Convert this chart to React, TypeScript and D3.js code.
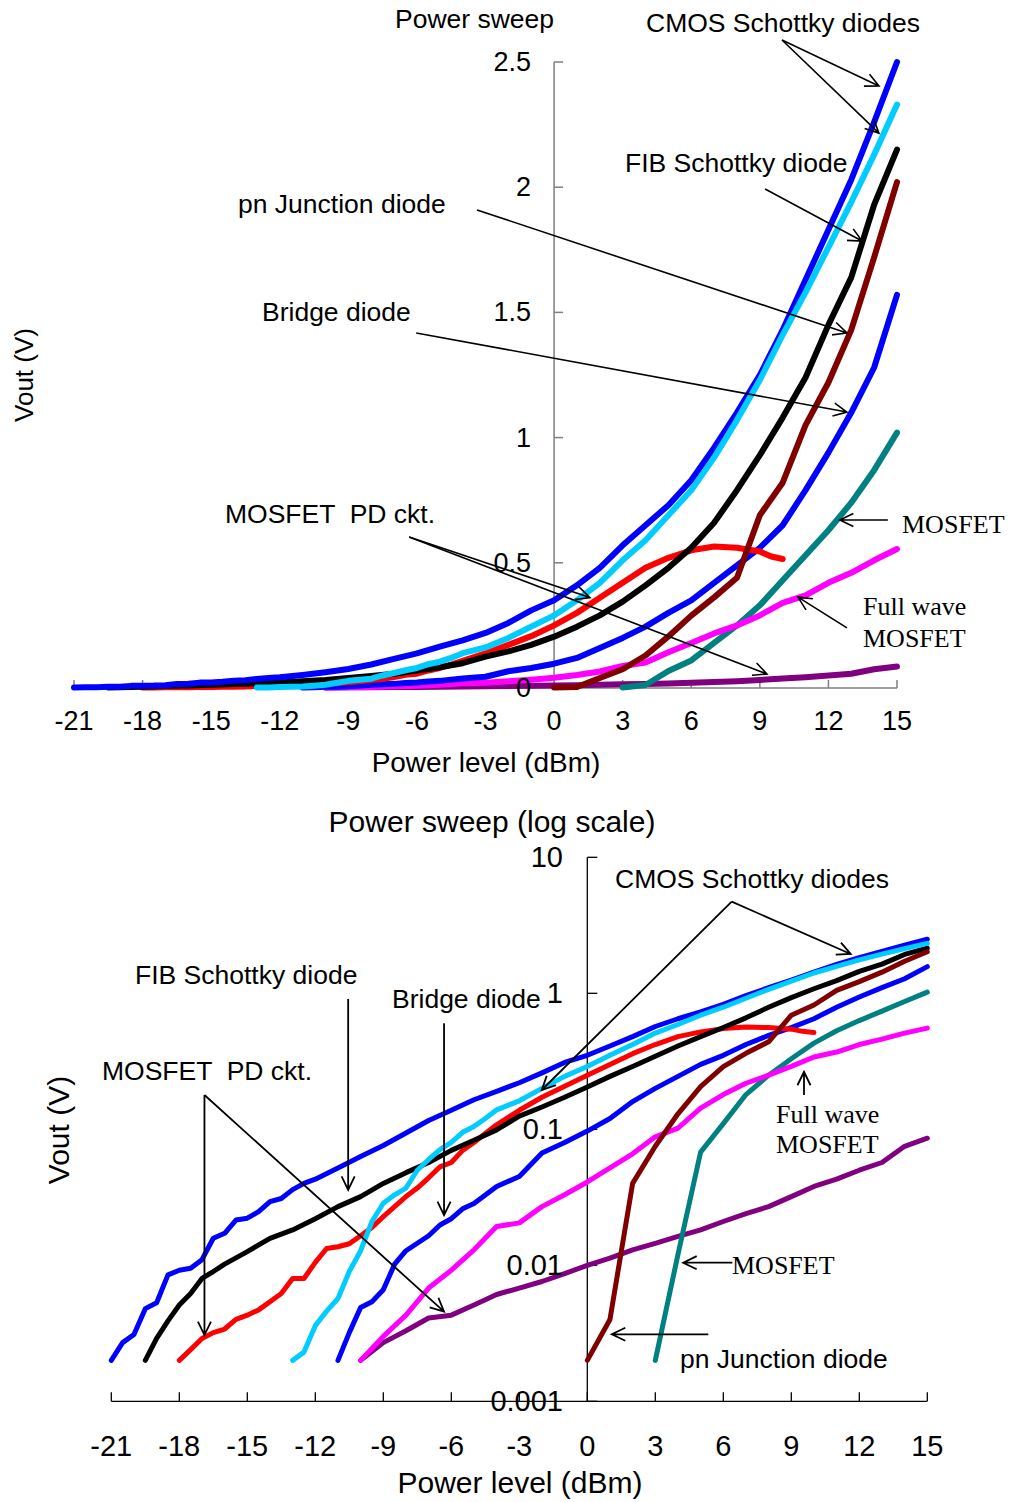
import React from 'react';
import * as d3 from 'd3';

// Input power sweep (dBm) on both panels
const powerTicks = [-21, -18, -15, -12, -9, -6, -3, 0, 3, 6, 9, 12, 15];
const linearTicks = [0, 0.5, 1, 1.5, 2, 2.5];
const linearTickLabels = ['0', '0.5', '1', '1.5', '2', '2.5'];
const logTicks = [0.001, 0.01, 0.1, 1, 10];
const logTickLabels = ['0.001', '0.01', '0.1', '1', '10'];

// Measured output voltage, [power dBm, Vout V]
const cmosSchottkyA: [number, number][] = [
  [-21, 0.002], [-20.5, 0.0027], [-20, 0.0031], [-19.5, 0.0048], [-19, 0.0053], [-18.5, 0.0085],
  [-18, 0.0092], [-17.5, 0.0095], [-17, 0.011], [-16.5, 0.0158], [-16, 0.0172], [-15.5, 0.0215],
  [-15, 0.0222], [-14.5, 0.0248], [-14, 0.0294], [-13.5, 0.031], [-13, 0.036], [-12.5, 0.04],
  [-12, 0.043], [-11, 0.052], [-10, 0.063], [-9, 0.076], [-8, 0.094], [-7, 0.116], [-6, 0.138],
  [-5, 0.165], [-4, 0.19], [-3, 0.22], [-2, 0.26], [-1, 0.31], [0, 0.35], [1, 0.41], [2, 0.48],
  [3, 0.57], [4, 0.65], [5, 0.73], [6, 0.83], [7, 0.96], [8, 1.1], [9, 1.25], [10, 1.43],
  [11, 1.63], [12, 1.83], [13, 2.03], [14, 2.26], [15, 2.5],
];
const cmosSchottkyB: [number, number][] = [
  [-13, 0.002], [-12.5, 0.0023], [-12, 0.0036], [-11.5, 0.0046], [-11, 0.0057], [-10.5, 0.009],
  [-10, 0.0128], [-9.5, 0.021], [-9, 0.0286], [-8.5, 0.033], [-8, 0.037], [-7.5, 0.05],
  [-7, 0.06], [-6.5, 0.071], [-6, 0.08], [-5.5, 0.095], [-5, 0.105], [-4.5, 0.12], [-4, 0.139],
  [-3, 0.162], [-2, 0.2], [-1, 0.245], [0, 0.29], [1, 0.35], [2, 0.42], [3, 0.51], [4, 0.59],
  [5, 0.69], [6, 0.79], [7, 0.92], [8, 1.07], [9, 1.23], [10, 1.41], [11, 1.58], [12, 1.76],
  [13, 1.94], [14, 2.13], [15, 2.33],
];
const fibSchottky: [number, number][] = [
  [-19.5, 0.002], [-19, 0.0029], [-18.5, 0.0039], [-18, 0.0051], [-17.5, 0.0062], [-17, 0.008],
  [-16.5, 0.009], [-16, 0.0102], [-15, 0.0126], [-14, 0.0158], [-13, 0.0182], [-12, 0.022],
  [-11, 0.027], [-10, 0.032], [-9, 0.04], [-8, 0.048], [-7, 0.057], [-6, 0.07], [-5, 0.083],
  [-4, 0.099], [-3, 0.125], [-2, 0.146], [-1, 0.172], [0, 0.205], [1, 0.245], [2, 0.29],
  [3, 0.345], [4, 0.41], [5, 0.48], [6, 0.56], [7, 0.66], [8, 0.79], [9, 0.93], [10, 1.08],
  [11, 1.24], [12, 1.45], [13, 1.64], [14, 1.93], [15, 2.15],
];
const mosfetPdRed: [number, number][] = [
  [-18, 0.002], [-17.5, 0.0024], [-17, 0.0029], [-16.5, 0.0032], [-16, 0.0034], [-15.5, 0.004],
  [-15, 0.0043], [-14.5, 0.0047], [-14, 0.0054], [-13.5, 0.0062], [-13, 0.008], [-12.5, 0.008],
  [-12, 0.0105], [-11.5, 0.0133], [-11, 0.0137], [-10.5, 0.0144], [-10, 0.0165], [-9.5, 0.019],
  [-9, 0.0228], [-8.5, 0.027], [-8, 0.032], [-7.5, 0.037], [-7, 0.044], [-6.5, 0.053],
  [-6, 0.057], [-5.5, 0.07], [-5, 0.08], [-4.5, 0.093], [-4, 0.108], [-3, 0.138], [-2, 0.172],
  [-1, 0.207], [0, 0.25], [1, 0.3], [2, 0.36], [3, 0.42], [4, 0.48], [5, 0.52], [6, 0.55],
  [7, 0.565], [8, 0.56], [9, 0.545], [9.5, 0.525], [10, 0.515],
];
const pnJunction: [number, number][] = [
  [0, 0.002], [1, 0.004], [2, 0.04], [3, 0.075], [4, 0.13], [5, 0.206], [6, 0.289], [7, 0.362],
  [8, 0.44], [9, 0.69], [10, 0.82], [11, 1.05], [12, 1.22], [13, 1.43], [14, 1.72], [15, 2.02],
];
const bridgeDiode: [number, number][] = [
  [-11, 0.002], [-10.5, 0.0032], [-10, 0.0049], [-9.5, 0.0054], [-9, 0.0066], [-8.5, 0.0102],
  [-8, 0.0128], [-7, 0.0165], [-6.5, 0.0198], [-6, 0.022], [-5.5, 0.026], [-5, 0.0285],
  [-4, 0.038], [-3, 0.045], [-2, 0.067], [-1, 0.08], [0, 0.097], [1, 0.12], [2, 0.16],
  [3, 0.2], [4, 0.245], [5, 0.3], [6, 0.35], [7, 0.42], [8, 0.49], [9, 0.56], [10, 0.65],
  [11, 0.79], [12, 0.94], [13, 1.1], [14, 1.28], [15, 1.57],
];
const mosfet: [number, number][] = [
  [3, 0.002], [4, 0.012], [5, 0.068], [6, 0.11], [7, 0.18], [8, 0.25], [9, 0.33], [10, 0.43],
  [11, 0.53], [12, 0.63], [13, 0.74], [14, 0.87], [15, 1.02],
];
const fullWaveMosfet: [number, number][] = [
  [-10, 0.002], [-9, 0.003], [-8, 0.0043], [-7, 0.0068], [-6, 0.0092], [-5, 0.013], [-4, 0.0193],
  [-3, 0.0205], [-2, 0.027], [-1, 0.033], [0, 0.041], [1, 0.052], [2, 0.066], [3, 0.088],
  [4, 0.102], [5, 0.143], [6, 0.18], [7, 0.218], [8, 0.25], [9, 0.29], [10, 0.34], [11, 0.37],
  [12, 0.42], [13, 0.46], [14, 0.51], [15, 0.555],
];
const mosfetPdPurple: [number, number][] = [
  [-10, 0.002], [-9, 0.0027], [-8, 0.0033], [-7, 0.0041], [-6, 0.0043], [-5, 0.0051],
  [-4, 0.0061], [-3, 0.0068], [-2, 0.0076], [-1, 0.0087], [0, 0.01], [1, 0.0113], [2, 0.013],
  [3, 0.0145], [4, 0.0163], [5, 0.0182], [6, 0.021], [7, 0.024], [8, 0.027], [9, 0.032],
  [10, 0.038], [11, 0.043], [12, 0.05], [13, 0.057], [14, 0.075], [15, 0.086],
];

// Drawing order: first entry sits underneath
const SERIES = [
  { key: 'pd-purple', data: mosfetPdPurple, color: '#800080' },
  { key: 'mosfet', data: mosfet, color: '#008080' },
  { key: 'fullwave', data: fullWaveMosfet, color: '#FF00FF' },
  { key: 'bridge', data: bridgeDiode, color: '#0000FF' },
  { key: 'pd-red', data: mosfetPdRed, color: '#FF0000' },
  { key: 'fib', data: fibSchottky, color: '#000000' },
  { key: 'cmos-a', data: cmosSchottkyA, color: '#0000FF' },
  { key: 'cmos-b', data: cmosSchottkyB, color: '#00CCFF' },
  { key: 'pn', data: pnJunction, color: '#800000' },
];

const SANS = "Arial, 'Liberation Sans', Helvetica, sans-serif";
const SERIF = "'Times New Roman', 'Liberation Serif', serif";

type Pt = [number, number];
type Arrow = { from: Pt; to: Pt[] };

// Callout leaders, in data units (dBm, V)
const topArrows: Arrow[] = [
  { from: [9.97, 2.588], to: [[14.21, 2.404], [14.21, 2.216]] },
  { from: [9.23, 1.993], to: [[13.47, 1.785]] },
  { from: [-3.37, 1.909], to: [[12.81, 1.418]] },
  { from: [-6.03, 1.418], to: [[12.81, 1.102]] },
  { from: [-6.34, 0.603], to: [[1.57, 0.361], [9.31, 0.056]] },
  { from: [14.6, 0.671], to: [[12.5, 0.671]] },
  { from: [12.81, 0.24], to: [[10.67, 0.363]] },
];
const bottomArrows: Arrow[] = [
  { from: [6.37, 4.72], to: [[11.62, 1.945], [-2.01, 0.1945]] },
  { from: [-10.55, 0.908], to: [[-10.55, 0.0358]] },
  { from: [-6.32, 0.601], to: [[-6.32, 0.0234]] },
  { from: [-16.89, 0.1787], to: [[-16.89, 0.00307], [-6.32, 0.00456]] },
  { from: [9.56, 0.1787], to: [[9.56, 0.265]] },
  { from: [6.4, 0.01045], to: [[4.23, 0.01045]] },
  { from: [5.34, 0.00311], to: [[1.08, 0.00311]] },
];

function arrowPath(x1: number, y1: number, x2: number, y2: number, len = 15, ang = 0.45) {
  const a = Math.atan2(y2 - y1, x2 - x1);
  const b1 = a + Math.PI - ang;
  const b2 = a + Math.PI + ang;
  return `M${x1},${y1}L${x2},${y2}M${x2 + len * Math.cos(b1)},${y2 + len * Math.sin(b1)}L${x2},${y2}L${x2 + len * Math.cos(b2)},${y2 + len * Math.sin(b2)}`;
}

export default function App() {
  const xTop = d3.scaleLinear().domain([-21, 15]).range([74, 897]);
  const yTop = d3.scaleLinear().domain([0, 2.5]).range([688, 62]);
  const xBot = d3.scaleLinear().domain([-21, 15]).range([111.3, 927.3]);
  const yBot = d3.scaleLog().domain([0.001, 10]).range([1401.3, 857.3]);

  const lineTop = d3.line<Pt>().x((d) => xTop(d[0])).y((d) => yTop(d[1]));
  const lineBot = d3.line<Pt>().x((d) => xBot(d[0])).y((d) => yBot(d[1]));

  const topAxis = '#7f7f7f';

  return (
    <svg
      width={1013}
      height={1502}
      style={{ position: 'absolute', left: 0, top: 0, background: '#fff' }}
      fontFamily={SANS}
    >
      {/* ---------- Linear panel ---------- */}
      <g>
        <line x1={xTop(-21)} x2={xTop(15)} y1={yTop(0)} y2={yTop(0)} stroke={topAxis} strokeWidth={1.5} />
        <line x1={xTop(0)} x2={xTop(0)} y1={yTop(0)} y2={yTop(2.5)} stroke={topAxis} strokeWidth={1.5} />
        {powerTicks.map((t) => (
          <line key={'tx' + t} x1={xTop(t)} x2={xTop(t)} y1={yTop(0)} y2={yTop(0) - 8} stroke={topAxis} strokeWidth={1.5} />
        ))}
        {linearTicks.map((t) => (
          <line key={'ty' + t} x1={xTop(0)} x2={xTop(0) + 9} y1={yTop(t)} y2={yTop(t)} stroke={topAxis} strokeWidth={1.5} />
        ))}
        {SERIES.map((s) => (
          <path key={'t' + s.key} d={lineTop(s.data) || ''} fill="none" stroke={s.color} strokeWidth={6} strokeLinejoin="round" strokeLinecap="round" />
        ))}
        {powerTicks.map((t) => (
          <text key={'lx' + t} x={xTop(t)} y={730} fontSize={27} textAnchor="middle">{t}</text>
        ))}
        {linearTicks.map((t, i) => (
          <text key={'ly' + t} x={531} y={yTop(t) + 9} fontSize={27} textAnchor="end">{linearTickLabels[i]}</text>
        ))}
        <text x={486} y={772} fontSize={28} textAnchor="middle">Power level (dBm)</text>
        <text transform="translate(33,375) rotate(-90)" fontSize={26} textAnchor="middle">Vout (V)</text>
        <text x={395} y={28} fontSize={26.5}>Power sweep</text>

        {topArrows.map((a, i) =>
          a.to.map((t, j) => (
            <path key={`ta${i}-${j}`} d={arrowPath(xTop(a.from[0]), yTop(a.from[1]), xTop(t[0]), yTop(t[1]))} fill="none" stroke="#000" strokeWidth={1.6} />
          )),
        )}
        <text x={646} y={32} fontSize={26.5}>CMOS Schottky diodes</text>
        <text x={625} y={172} fontSize={26.5}>FIB Schottky diode</text>
        <text x={238} y={213} fontSize={26.5}>pn Junction diode</text>
        <text x={262} y={321} fontSize={26.5}>Bridge diode</text>
        <text x={225} y={523} fontSize={26.5} style={{ whiteSpace: 'pre' }}>MOSFET  PD ckt.</text>
        <text x={902} y={533} fontSize={26} fontFamily={SERIF}>MOSFET</text>
        <text x={863} y={615} fontSize={26} fontFamily={SERIF}>Full wave</text>
        <text x={863} y={647} fontSize={26} fontFamily={SERIF}>MOSFET</text>
      </g>

      {/* ---------- Log panel ---------- */}
      <g>
        <line x1={xBot(-21)} x2={xBot(15)} y1={yBot(0.001)} y2={yBot(0.001)} stroke="#000" strokeWidth={1.3} />
        <line x1={xBot(0)} x2={xBot(0)} y1={yBot(0.001)} y2={yBot(10)} stroke="#000" strokeWidth={1.3} />
        {powerTicks.map((t) => (
          <line key={'bx' + t} x1={xBot(t)} x2={xBot(t)} y1={yBot(0.001)} y2={yBot(0.001) - 9} stroke="#000" strokeWidth={1.3} />
        ))}
        {logTicks.map((t) => (
          <line key={'by' + t} x1={xBot(0)} x2={xBot(0) + 10} y1={yBot(t)} y2={yBot(t)} stroke="#000" strokeWidth={1.3} />
        ))}
        {SERIES.map((s) => (
          <path key={'b' + s.key} d={lineBot(s.data) || ''} fill="none" stroke={s.color} strokeWidth={5} strokeLinejoin="round" strokeLinecap="round" />
        ))}
        {powerTicks.map((t) => (
          <text key={'blx' + t} x={xBot(t)} y={1456} fontSize={29} textAnchor="middle">{t}</text>
        ))}
        {logTicks.map((t, i) => (
          <text key={'bly' + t} x={563} y={yBot(t) + 9.5} fontSize={29} textAnchor="end">{logTickLabels[i]}</text>
        ))}
        <text x={520} y={1493} fontSize={30} textAnchor="middle">Power level (dBm)</text>
        <text transform="translate(69,1130) rotate(-90)" fontSize={30} textAnchor="middle">Vout (V)</text>
        <text x={492} y={832} fontSize={30} textAnchor="middle">Power sweep (log scale)</text>

        {bottomArrows.map((a, i) =>
          a.to.map((t, j) => (
            <path key={`ba${i}-${j}`} d={arrowPath(xBot(a.from[0]), yBot(a.from[1]), xBot(t[0]), yBot(t[1]))} fill="none" stroke="#000" strokeWidth={1.8} />
          )),
        )}
        <text x={615} y={888} fontSize={26.5}>CMOS Schottky diodes</text>
        <text x={135} y={984} fontSize={26.5}>FIB Schottky diode</text>
        <text x={392} y={1008} fontSize={26.5}>Bridge diode</text>
        <text x={102} y={1080} fontSize={26.5} style={{ whiteSpace: 'pre' }}>MOSFET  PD ckt.</text>
        <text x={776} y={1123} fontSize={26} fontFamily={SERIF}>Full wave</text>
        <text x={776} y={1153} fontSize={26} fontFamily={SERIF}>MOSFET</text>
        <text x={732} y={1274} fontSize={26} fontFamily={SERIF}>MOSFET</text>
        <text x={680} y={1368} fontSize={26.5}>pn Junction diode</text>
      </g>
    </svg>
  );
}
